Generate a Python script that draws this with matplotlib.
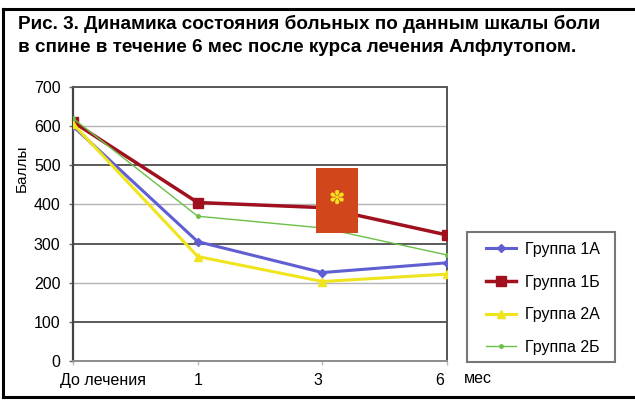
import numpy as np
import matplotlib.pyplot as plt
from matplotlib.patches import Rectangle
from matplotlib.lines import Line2D
import matplotlib.transforms as mtransforms

plt.rcParams['font.family'] = ['Liberation Sans', 'DejaVu Sans']

categories = ['До лечения', '1', '3', '6']
groups = ['Группа 1А', 'Группа 1Б', 'Группа 2А', 'Группа 2Б']
g1a = [600, 305, 226, 251]
g1b = [611, 405, 392, 322]
g2a = [606, 267, 203, 222]
g2b = [620, 370, 340, 271]

title = ('Рис. 3. Динамика состояния больных по данным шкалы боли\n'
         'в спине в течение 6 мес после курса лечения Алфлутопом.')

W, H = 635, 401
fig = plt.figure(figsize=(W / 100, H / 100), dpi=100)
ax = fig.add_axes([0.115, 0.0998, 0.589, 0.683])

x = np.arange(len(categories))

# horizontal grid, alternating dark / light
for v in range(100, 701, 100):
    if v % 200 == 100:
        ax.axhline(v, color='#5a5a5a', lw=1.4, zorder=1)
    else:
        ax.axhline(v, color='#b4b4b4', lw=1.0, zorder=1)

lines = []
lines += ax.plot(x, g1a, color='#5f5fd2', lw=2.2, marker='D', ms=4, zorder=3)
lines += ax.plot(x, g1b, color='#a0101e', lw=2.5, marker='s', ms=7, zorder=3)
lines += ax.plot(x, g2a, color='#f0e41c', lw=2.2, marker='^', ms=6, zorder=3)
lines += ax.plot(x, g2b, color='#6cbf48', lw=1.0, marker='o', ms=2.5, zorder=3)

# highlighted box with a star sign over the 3-month point
ax.add_patch(Rectangle((1.95, 327), 0.335, 166, facecolor='#d2461c',
                       edgecolor='none', zorder=4))
ax.text(2.115, 417, '✽', color='#f5e21e', fontsize=14, ha='center',
        va='center', family=['DejaVu Sans'], zorder=5)

ax.set_xlim(0, 3)
ax.set_ylim(0, 700)
ax.set_yticks(range(0, 701, 100))
ax.set_xticks(x)
ax.set_xticklabels(categories)
ax.tick_params(axis='y', length=3, width=1, color='#666666', labelsize=11.5, pad=6)
ax.tick_params(axis='x', length=3, width=1, color='#bbbbbb', labelsize=11.5, pad=6)

shifts = [30, 0, -4, -7]
for lab, dx in zip(ax.get_xticklabels(), shifts):
    off = mtransforms.ScaledTranslation(dx / 100, 0, fig.dpi_scale_trans)
    lab.set_transform(lab.get_transform() + off)

ax.spines['left'].set_color('#444444')
ax.spines['left'].set_linewidth(1.6)
ax.spines['right'].set_color('#555555')
ax.spines['right'].set_linewidth(1.4)
ax.spines['top'].set_color('#5a5a5a')
ax.spines['top'].set_linewidth(1.4)
ax.spines['bottom'].set_color('#8c8c8c')
ax.spines['bottom'].set_linewidth(1.4)

fig.text(0.035, 0.58, 'Баллы', rotation=90, fontsize=11, ha='center', va='center')
fig.text(0.753, 0.057, 'мес', fontsize=11.5, ha='center', va='center')

fig.text(0.028, 0.963, title, fontsize=13.6, fontweight='bold', ha='left',
         va='top', linespacing=1.45)

# legend inside its own grey frame
fig.add_artist(Rectangle((467 / W, 1 - 362 / H), 148 / W, 130 / H,
                         transform=fig.transFigure, facecolor='white',
                         edgecolor='#777777', lw=1.5, zorder=2))
leg = fig.legend(lines, groups, loc='upper left',
                 bbox_to_anchor=(486 / W, 1 - 242 / H),
                 fontsize=11.5, frameon=False,
                 handlelength=1.9, handletextpad=0.55, labelspacing=1.1,
                 borderpad=0, borderaxespad=0)
leg.set_zorder(3)

# outer frame
fig.add_artist(Line2D([0.005, 1.0], [0.978, 0.978], color='black', lw=2.2))
fig.add_artist(Line2D([0.005, 0.005], [0.978, 0.01], color='black', lw=2.2))
fig.add_artist(Line2D([0.005, 1.0], [0.01, 0.01], color='black', lw=2.2))

fig.savefig('out.png', dpi=100)
